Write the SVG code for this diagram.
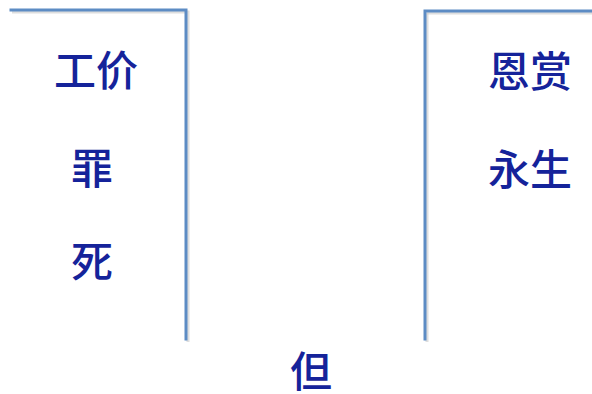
<svg xmlns="http://www.w3.org/2000/svg" width="592" height="394" viewBox="0 0 592 394">
<style>
.ln{fill:none;stroke:#5d8cc4;stroke-width:3;stroke-linecap:square}
.sh{fill:none;stroke:#c8c8c8;stroke-width:3;opacity:0.6}
.t{font-family:"Noto Sans CJK SC","Noto Sans CJK TC",sans-serif;font-size:42px;font-weight:500;fill:#15239a;text-anchor:middle}
</style>
<g id="connectors">
<polyline class="sh" points="12,12 188,12 188,342"/>
<polyline class="sh" points="427,13 592,13"/>
<polyline class="sh" points="427,13 427,342"/>
<polyline class="ln" points="11,10 186,10 186,339"/>
<polyline class="ln" points="592,11 425,11 425,339"/>
</g>
<g id="left">
<text class="t" x="96" y="86">工价</text>
<text class="t" x="92" y="184">罪</text>
<text class="t" x="92" y="277">死</text>
</g>
<g id="right">
<text class="t" x="530" y="87">恩赏</text>
<text class="t" x="530" y="185">永生</text>
</g>
<g id="bottom">
<text class="t" x="311" y="387">但</text>
</g>
</svg>
